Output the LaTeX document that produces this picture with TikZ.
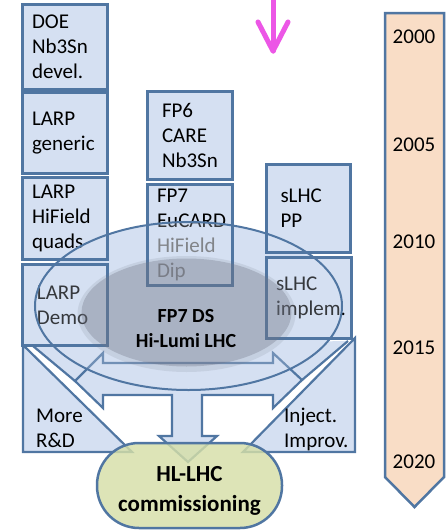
\documentclass[tikz,border=0pt]{standalone}
\usepackage{fontspec}
\setmainfont{Carlito}
\usetikzlibrary{calc}
\definecolor{boxBlue}{RGB}{213,224,242}
\definecolor{lineBlue}{RGB}{80,118,162}
\definecolor{peach}{RGB}{249,221,198}
\definecolor{pillGreen}{RGB}{214,223,168}
\definecolor{arrowPink}{RGB}{236,86,230}
\definecolor{grayEll}{RGB}{112,117,134}

\begin{document}
\begin{tikzpicture}[
  x=1pt, y=-1pt,
  edge/.style={draw=lineBlue, line width=2.8pt},
  outline/.style={draw=lineBlue, line width=2.2pt, line join=miter},
  card/.style={fill=boxBlue, minimum width=84pt, inner xsep=9pt, inner ysep=0pt,
               text width=66pt, align=left, text=black,
               font=\fontsize{21}{25}\selectfont},
  cardin/.style={card, inner xsep=14pt, text width=56pt},
  lbl/.style={align=left, inner sep=0pt, text=black,
              font=\fontsize{21}{25}\selectfont},
  pill/.style={draw=lineBlue, line width=2.5pt, fill=pillGreen, fill opacity=0.82,
               rounded corners=42pt, minimum width=185pt, minimum height=85pt},
]
  \useasboundingbox[fill=white] (0,0) rectangle (447,531);

  % Ellipse body (under the arrows)
  \fill[boxBlue] (188.5,306) ellipse [x radius=153.5, y radius=84];

  % Funnel and stripes
  \fill[boxBlue] (33,346) -- (348,341) -- (302,380) -- (75,381) -- cycle;
  \draw[outline] (33,346) -- (75,381);
  \draw[outline] (348,341) -- (302,380);
  \filldraw[outline, fill=boxBlue] (23,345) -- (23,452) -- (132,452) -- cycle;
  \filldraw[outline, fill=boxBlue] (355,338) -- (355,452) -- (243,452) -- cycle;

  % Spread arrows and down arrow
  \filldraw[outline, fill=boxBlue] (75,381) -- (103,353) -- (103,363) -- (273,363)
    -- (273,353) -- (302,380) -- (273,408) -- (273,395) -- (202,395) -- (202,436)
    -- (217,436) -- (188,462) -- (159,436) -- (172,436) -- (172,395) -- (103,395)
    -- (103,408) -- cycle;

  % Project boxes
  \node[card,   minimum height=84pt] (doe)     at (65,47)    {DOE\\Nb3Sn\\devel.};
  \node[card,   minimum height=80pt] (generic) at (65,133)   {LARP\\generic};
  \node[card,   minimum height=81pt] (quads)   at (65,218.5) {LARP\\HiField\\quads};
  \node[cardin, minimum height=80pt] (demo)    at (65,305)   {LARP\\Demo};
  \node[cardin, minimum height=87pt] (fp6)     at (190,135.5) {FP6\\CARE\\Nb3Sn};
  \node[card,   minimum height=100pt] (fp7)    at (190,235)
    {FP7\\EuCARD\\\textcolor{black!60}{HiField}\\\textcolor{black!60}{Dip}};
  \node[cardin, minimum height=87pt] (pp)      at (308.5,208.5) {sLHC\\PP};
  \node[card,   minimum height=80pt] (implem)  at (309,298)  {sLHC\\implem.};

  % Ellipse veil, box frames, ellipse rim
  \fill[boxBlue, fill opacity=0.25] (188.5,306) ellipse [x radius=153.5, y radius=84];
  \foreach \n in {doe,generic,quads,demo,fp6,fp7,pp,implem}
    \draw[edge] (\n.north west) rectangle (\n.south east);
  \draw[lineBlue, line width=2pt] (188.5,306) ellipse [x radius=153.5, y radius=84];

  % Design study core
  \fill[grayEll, fill opacity=0.15] (186.5,314) ellipse [x radius=109, y radius=58];
  \fill[grayEll, fill opacity=0.33] (186.5,312.5) ellipse [x radius=105, y radius=54];
  \node[align=center, text=black, font=\bfseries\fontsize{20}{25}\selectfont]
    (ds) at (186,329) {FP7 DS\\Hi-Lumi LHC};

  % Side labels
  \node[lbl, anchor=west] (more)   at (36,428)  {More\\R\&D};
  \node[lbl, anchor=west] (inject) at (284,429) {Inject.\\Improv.};

  % Goal
  \node[pill] (hl) at (189.5,485.5) {};
  \node[align=center, text=black, font=\bfseries\fontsize{23}{30}\selectfont]
    (hltext) at (189.5,491) {HL-LHC\\commissioning};

  % Timeline
  \filldraw[fill=peach, draw=lineBlue, line width=2.5pt]
    (385,13) -- (444,13) -- (444,477) -- (414.5,507) -- (385,477) -- cycle;
  \foreach \yr/\ypos in {2000/37, 2005/145, 2010/242, 2015/348, 2020/462}
    \node[lbl] (y\yr) at (414,\ypos) {\yr};

  % Pointer
  \coordinate (pinkTop) at (273,-6);
  \coordinate (pinkTip) at (273,51);
  \draw[arrowPink, line width=5pt, line cap=round] (pinkTop) -- (pinkTip);
  \draw[arrowPink, line width=5pt, line cap=round, line join=round]
    ($(pinkTip)+(-15,-29)$) -- (pinkTip) -- ($(pinkTip)+(15,-29)$);
\end{tikzpicture}
\end{document}
